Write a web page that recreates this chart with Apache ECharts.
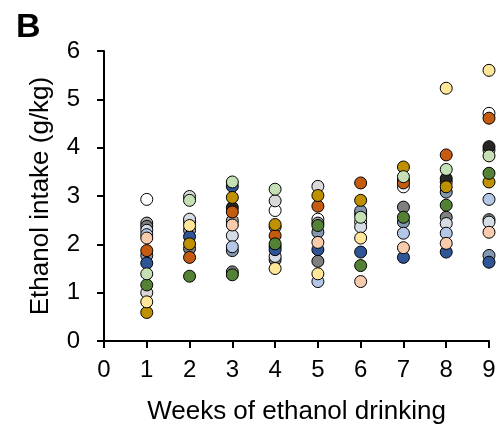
<!DOCTYPE html>
<html>
<head>
<meta charset="utf-8">
<script src="https://cdn.jsdelivr.net/npm/echarts@6/dist/echarts.min.js"></script>
<style>html,body{margin:0;padding:0;background:#fff;}#c{width:499px;height:430px;}</style>
</head>
<body>
<div id="c"></div>
<script>
// Weeks 1..9
const weeks = [1, 2, 3, 4, 5, 6, 7, 8, 9];
const xTicks = [0, 1, 2, 3, 4, 5, 6, 7, 8, 9];
const yTicks = [0, 1, 2, 3, 4, 5, 6];
const xTitle = 'Weeks of ethanol drinking';
const yTitle = 'Ethanol intake (g/kg)';
const panelLabel = 'B';

// One array per animal (ethanol intake g/kg per week)
const animalWhite      = [2.93, 2.47, null, 2.70, 2.52, 2.46, 3.19, null, 4.71];
const animalLightGray  = [1.00, 2.99, null, 2.90, 3.20, 2.63, 3.33, 3.29, 3.95];
const animalGray       = [2.44, 2.29, 2.49, 2.36, 2.44, null, null, null, null];
const animalDarkGray   = [2.37, 1.91, 1.43, 1.68, 1.65, null, 2.77, 2.56, 2.51];
const animalBlack      = [null, null, 2.76, null, null, null, null, 3.36, 4.02];
const animalPaleSlate  = [2.29, 2.52, 2.18, 1.75, null, 2.36, null, 2.43, 2.46];
const animalSlate      = [1.77, null, 1.87, 1.95, 2.25, 2.69, 2.46, 3.08, 1.77];
const animalLightBlue  = [2.20, null, 1.95, null, 1.23, null, 2.23, 2.23, 2.93];
const animalBlue       = [1.61, 2.16, 3.20, 1.89, 1.89, 1.84, 1.73, 1.84, 1.63];
const animalOrange     = [1.87, 1.73, 2.67, 2.18, 2.79, 3.27, 3.27, 3.85, 4.61];
const animalPeach      = [2.13, null, 2.40, null, 2.04, 1.23, 1.93, 2.02, 2.25];
const animalGold       = [0.59, 2.01, 2.97, 2.41, 3.01, 2.91, 3.60, 3.19, 3.29];
const animalYellow     = [0.81, 2.39, null, 1.50, 1.39, 2.13, null, 5.23, 5.60];
const animalGreen      = [1.16, 1.34, 1.37, 2.01, 2.39, 1.56, 2.56, 2.81, 3.47];
const animalLightGreen = [1.39, 2.91, 3.29, 3.14, null, 2.56, 3.40, 3.55, 3.83];

const animals = [
  ['White', animalWhite], ['Light gray', animalLightGray], ['Gray', animalGray],
  ['Dark gray', animalDarkGray], ['Black', animalBlack], ['Pale slate', animalPaleSlate],
  ['Slate', animalSlate], ['Light blue', animalLightBlue], ['Blue', animalBlue],
  ['Orange', animalOrange], ['Peach', animalPeach], ['Gold', animalGold],
  ['Yellow', animalYellow], ['Green', animalGreen], ['Light green', animalLightGreen]
];
const palette = ['#FFFFFF', '#D9D9D9', '#A6A6A6', '#7F7F7F', '#262626', '#D6DCE5',
  '#8497B0', '#B4C7E7', '#2F5597', '#C55A11', '#F8CBAD', '#BF9000', '#FFE699',
  '#548235', '#C5E0B4'];

const FONT = 'Liberation Sans, Arial, sans-serif';
const chart = echarts.init(document.getElementById('c'), null, {renderer: 'canvas'});
chart.setOption({
  animation: false,
  backgroundColor: '#fff',
  grid: {left: 104, right: 10, top: 51, bottom: 89, containLabel: false},
  xAxis: {
    type: 'value', min: 0, max: 9, interval: 1,
    name: xTitle, nameLocation: 'middle', nameGap: 58,
    nameTextStyle: {color: '#000', fontSize: 26, fontFamily: FONT},
    axisLine: {show: true, onZero: false, lineStyle: {color: '#000', width: 2}},
    axisTick: {show: true, inside: false, length: 7, lineStyle: {color: '#000', width: 2}},
    axisLabel: {color: '#000', fontSize: 24, fontFamily: FONT, margin: 17,
      formatter: v => xTicks.includes(v) ? String(v) : ''},
    splitLine: {show: false}
  },
  yAxis: {
    type: 'value', min: 0, max: 6, interval: 1,
    name: yTitle, nameLocation: 'middle', nameGap: 50,
    nameTextStyle: {color: '#000', fontSize: 26, fontFamily: FONT},
    axisLine: {show: true, onZero: false, lineStyle: {color: '#000', width: 2}},
    axisTick: {show: true, inside: false, length: 7, lineStyle: {color: '#000', width: 2}},
    axisLabel: {color: '#000', fontSize: 24, fontFamily: FONT, margin: 24,
      formatter: v => yTicks.includes(v) ? String(v) : ''},
    splitLine: {show: false}
  },
  graphic: [
    {type: 'text', left: 16, top: 11, style: {text: panelLabel, font: 'bold 34px ' + FONT, fill: '#000'}}
  ],
  series: animals.map(([name, vals], i) => ({
    name: name,
    type: 'scatter',
    clip: false,
    symbol: 'circle',
    symbolSize: 12,
    itemStyle: {color: palette[i], borderColor: '#000', borderWidth: 1, opacity: 1},
    data: weeks.map((w, k) => vals[k] == null ? null : [w, vals[k]]).filter(d => d)
  }))
});
</script>
</body>
</html>
